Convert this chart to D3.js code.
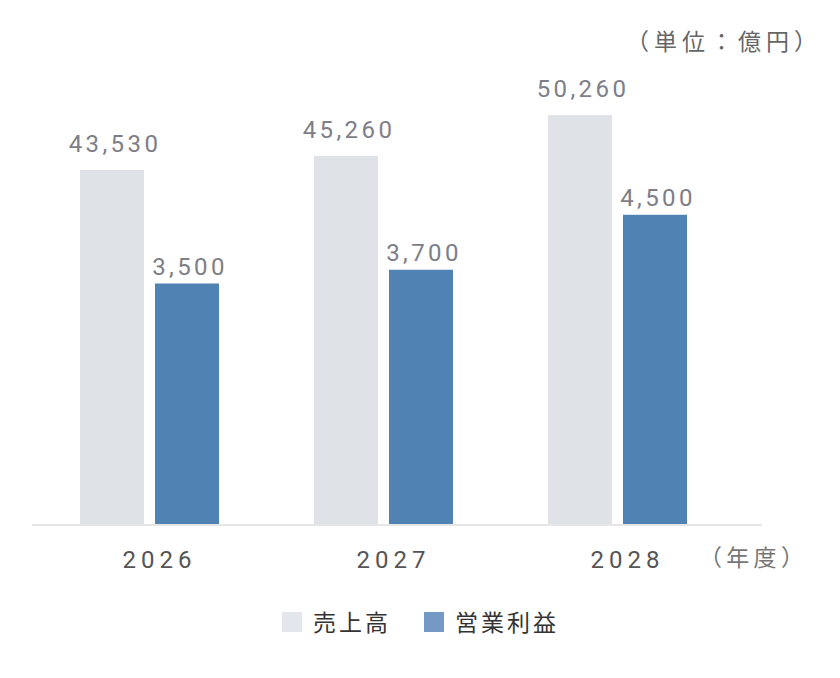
<!DOCTYPE html>
<html><head><meta charset="utf-8">
<script src="https://cdn.jsdelivr.net/npm/d3@7"></script>
<style>
html,body{margin:0;padding:0;background:#fff;}
svg{display:block;}
</style></head>
<body>
<svg id="c" width="840" height="678"></svg>
<script>
const years = ["2026", "2027", "2028"];
const seriesNames = ["売上高", "営業利益"];
const sales = [43530, 45260, 50260];
const profit = [3500, 3700, 4500];

const W = 840, H = 678;
const baseY = 524;
const svg = d3.select("#c");
const colors = {"売上高": "#dfe2e7", "営業利益": "#5182b4"};
const legendColors = {"売上高": "#e3e6ea", "営業利益": "#7399c4"};

const x0 = d3.scaleBand().domain(years).range([32.5, 734.5]).padding(0);
const x1 = d3.scaleBand().domain(seriesNames).range([47.5, 186.5]).paddingInner(11/75).paddingOuter(0);
const ySales = d3.scaleLinear().domain([0, 60000]).range([baseY, 36]);
const yProfit = d3.scaleLinear().domain([0, 7000]).range([baseY, 43]);
const fmt = d3.format(",");

const data = years.map((y, i) => ({year: y, vals: [
  {s: "売上高", v: sales[i], sc: ySales, gap: 18},
  {s: "営業利益", v: profit[i], sc: yProfit, gap: 9}
]}));

const g = svg.selectAll("g.grp").data(data).enter().append("g")
  .attr("transform", d => `translate(${x0(d.year)},0)`);

g.selectAll("rect").data(d => d.vals).enter().append("rect")
  .attr("x", d => x1(d.s))
  .attr("width", x1.bandwidth())
  .attr("y", d => d.sc(d.v))
  .attr("height", d => baseY - d.sc(d.v))
  .attr("fill", d => colors[d.s]);

g.selectAll("text.val").data(d => d.vals).enter().append("text")
  .attr("class", "val")
  .attr("x", d => x1(d.s) + x1.bandwidth() / 2 + 3)
  .attr("y", d => d.sc(d.v) - d.gap)
  .attr("text-anchor", "middle")
  .attr("font-family", "Roboto, 'DejaVu Sans', sans-serif")
  .attr("font-size", 24)
  .attr("letter-spacing", "3.4px")
  .attr("fill", "#7e7e87")
  .text(d => fmt(d.v));

// axis line
svg.append("line").attr("x1", 32).attr("x2", 762).attr("y1", 525).attr("y2", 525)
  .attr("stroke", "#e6e6e6").attr("stroke-width", 2);

// year labels
svg.selectAll("text.yr").data(years).enter().append("text")
  .attr("x", d => x0(d) + x0.bandwidth() / 2 + 10)
  .attr("y", 568)
  .attr("text-anchor", "middle")
  .attr("font-family", "Roboto, 'DejaVu Sans', sans-serif")
  .attr("font-size", 24)
  .attr("letter-spacing", "5px")
  .attr("fill", "#555")
  .text(d => d);

svg.append("text").attr("x", 699).attr("y", 566)
  .attr("font-family", "'Noto Sans CJK JP', sans-serif").attr("font-size", 23)
  .attr("letter-spacing", "4.3px")
  .attr("fill", "#777").text("（年度）");

svg.append("text").attr("x", 822).attr("y", 50)
  .attr("text-anchor", "end")
  .attr("font-family", "'Noto Sans CJK JP', sans-serif").attr("font-size", 23)
  .attr("letter-spacing", "5px")
  .attr("fill", "#666").text("（単位：億円）");

// legend
const leg = [{s: "売上高", x: 282, tx: 313}, {s: "営業利益", x: 424, tx: 455}];
const lg = svg.selectAll("g.leg").data(leg).enter().append("g");
lg.append("rect").attr("x", d => d.x).attr("y", 612).attr("width", 20).attr("height", 20)
  .attr("fill", d => legendColors[d.s]);
lg.append("text").attr("x", d => d.tx).attr("y", 631)
  .attr("font-family", "'Noto Sans CJK JP', sans-serif").attr("font-size", 23)
  .attr("letter-spacing", "3px")
  .attr("fill", "#333").text(d => d.s);
</script>
</body></html>
